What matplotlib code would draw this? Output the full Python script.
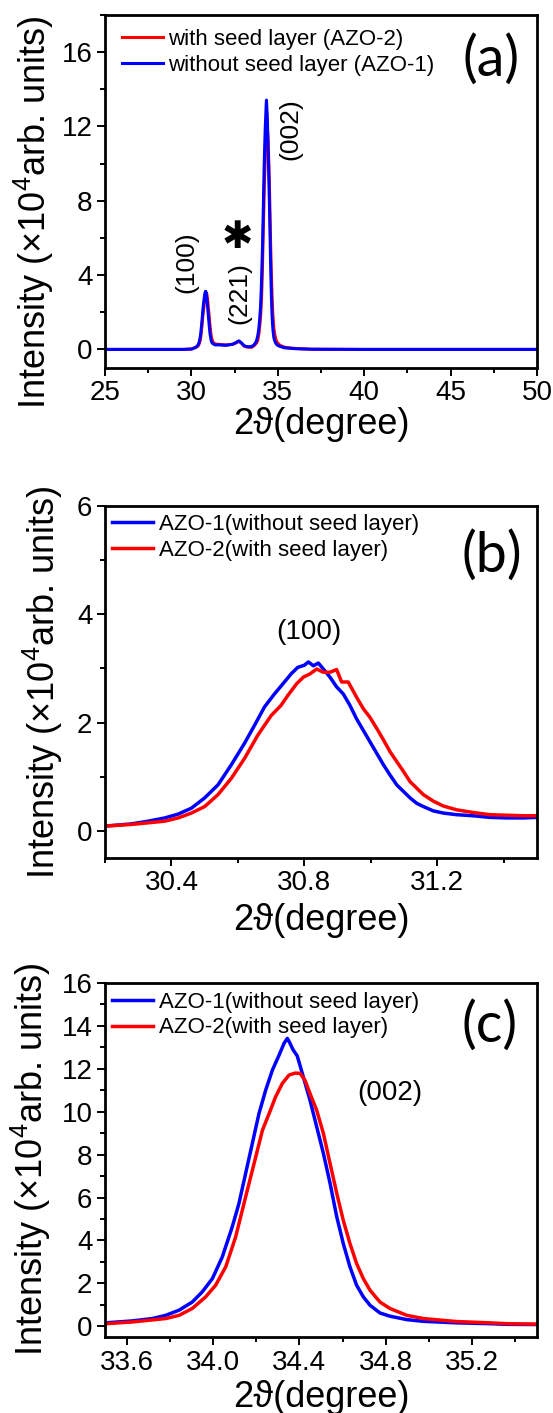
import matplotlib
matplotlib.use('Agg')
import matplotlib.pyplot as plt
from matplotlib.ticker import MultipleLocator, FormatStrFormatter

plt.rcParams['font.family'] = ['Liberation Sans', 'DejaVu Sans']
plt.rcParams['mathtext.fontset'] = 'custom'
plt.rcParams['mathtext.rm'] = 'Liberation Sans'

# AZO-1 (without seed layer)
theta_azo1 = [25.0, 28.0, 29.5, 30.0,
              30.202, 30.28, 30.33, 30.38, 30.42, 30.46, 30.50, 30.54, 30.58, 30.62,
              30.65, 30.68, 30.71, 30.74, 30.76, 30.78, 30.80, 30.812, 30.827, 30.842,
              30.857, 30.877, 30.897, 30.917, 30.937, 30.957, 30.977, 30.997, 31.018,
              31.038, 31.058, 31.078, 31.098, 31.118, 31.138, 31.158, 31.188, 31.218,
              31.258, 31.308, 31.358, 31.41, 31.46, 31.5,
              32.0, 32.4, 32.6, 32.75, 32.9, 33.05, 33.2, 33.35,
              33.503, 33.626, 33.719, 33.781, 33.843, 33.904, 33.95, 33.997, 34.043,
              34.089, 34.12, 34.151, 34.182, 34.213, 34.244, 34.275, 34.306, 34.329,
              34.344, 34.356, 34.37, 34.39, 34.418, 34.449, 34.48, 34.511, 34.542,
              34.573, 34.603, 34.634, 34.665, 34.696, 34.727, 34.773, 34.819, 34.897,
              34.974, 35.128, 35.282, 35.36, 35.5, 36.0, 37.0, 40.0, 50.0]
int_azo1 = [0.0, 0.0, 0.0, 0.02,
            0.09, 0.13, 0.18, 0.24, 0.31, 0.42, 0.61, 0.85, 1.22, 1.62,
            1.95, 2.29, 2.53, 2.75, 2.90, 3.02, 3.06, 3.12, 3.05, 3.10,
            2.99, 2.84, 2.66, 2.53, 2.32, 2.07, 1.86, 1.65, 1.43,
            1.22, 1.03, 0.85, 0.73, 0.61, 0.51, 0.45, 0.37, 0.33,
            0.30, 0.28, 0.25, 0.24, 0.24, 0.25,
            0.22, 0.28, 0.38, 0.46, 0.35, 0.20, 0.15, 0.14,
            0.16, 0.25, 0.36, 0.51, 0.75, 1.13, 1.60, 2.22, 3.23,
            4.63, 5.72, 7.12, 8.52, 9.92, 11.01, 11.94, 12.64, 13.19,
            13.42, 13.2, 12.9, 12.6, 11.63, 10.54, 9.30, 8.06, 6.66,
            5.10, 3.86, 2.77, 1.91, 1.37, 0.98, 0.62, 0.47, 0.31,
            0.23, 0.16, 0.12, 0.09, 0.08, 0.04, 0.01, 0.0, 0.0]

# AZO-2 (with seed layer)
theta_azo2 = [25.0, 28.0, 29.5, 30.0,
              30.202, 30.28, 30.38, 30.42, 30.46, 30.50, 30.54, 30.58, 30.62, 30.66,
              30.70, 30.73, 30.75, 30.777, 30.797, 30.817, 30.837, 30.857, 30.877,
              30.897, 30.912, 30.932, 30.957, 30.977, 30.997, 31.018, 31.038, 31.058,
              31.078, 31.098, 31.118, 31.138, 31.158, 31.188, 31.218, 31.258, 31.308,
              31.358, 31.41, 31.46, 31.5,
              32.0, 32.4, 32.6, 32.75, 32.9, 33.05, 33.2, 33.35,
              33.503, 33.626, 33.781, 33.843, 33.904, 33.966, 34.012, 34.059, 34.105,
              34.151, 34.198, 34.229, 34.26, 34.29, 34.321, 34.352, 34.38, 34.403,
              34.426, 34.449, 34.48, 34.511, 34.542, 34.573, 34.603, 34.634, 34.665,
              34.696, 34.727, 34.773, 34.819, 34.897, 34.974, 35.128, 35.282, 35.36,
              35.5, 36.0, 37.0, 40.0, 50.0]
int_azo2 = [0.0, 0.0, 0.0, 0.02,
            0.09, 0.12, 0.18, 0.24, 0.33, 0.45, 0.67, 0.97, 1.34, 1.77,
            2.13, 2.32, 2.50, 2.72, 2.84, 2.90, 2.99, 2.93, 2.93,
            2.98, 2.75, 2.75, 2.47, 2.26, 2.10, 1.89, 1.68, 1.46,
            1.28, 1.10, 0.91, 0.79, 0.67, 0.55, 0.46, 0.39, 0.34,
            0.30, 0.29, 0.28, 0.28,
            0.24, 0.28, 0.36, 0.44, 0.33, 0.18, 0.13, 0.12,
            0.12, 0.20, 0.36, 0.51, 0.83, 1.37, 1.91, 2.77, 4.17,
            6.03, 7.90, 9.14, 9.92, 10.70, 11.32, 11.71, 11.80, 11.79,
            11.47, 10.85, 10.07, 8.99, 7.59, 6.19, 4.94, 3.86, 2.92,
            2.22, 1.68, 1.13, 0.83, 0.51, 0.36, 0.22, 0.16, 0.12,
            0.10, 0.05, 0.01, 0.0, 0.0]

ylab = 'Intensity (×10$^4$arb. units)'
xlab = '2ϑ(degree)'

fig = plt.figure(figsize=(5.53, 14.13), dpi=100)
H = 1413.0

def box(top, bottom):
    return [105 / 553, 1 - bottom / H, 432 / 553, (bottom - top) / H]

def style(ax, xlim, ylim, xmaj, ymaj, fmt):
    ax.set_xlim(*xlim)
    ax.set_ylim(*ylim)
    ax.xaxis.set_major_locator(MultipleLocator(xmaj))
    ax.xaxis.set_minor_locator(MultipleLocator(xmaj / 2))
    ax.yaxis.set_major_locator(MultipleLocator(ymaj))
    ax.yaxis.set_minor_locator(MultipleLocator(ymaj / 2))
    ax.xaxis.set_major_formatter(FormatStrFormatter(fmt))
    ax.yaxis.set_major_formatter(FormatStrFormatter('%d'))
    ax.tick_params(which='both', direction='out', top=False, right=False,
                   labelsize=20, width=1.4, pad=3)
    ax.tick_params(which='major', length=6)
    ax.tick_params(which='minor', length=3.5)
    for s in ax.spines.values():
        s.set_linewidth(2)
    ax.set_xlabel(xlab, fontsize=26)
    ax.set_ylabel(ylab, fontsize=26)

leg_kw = dict(loc='upper left', frameon=False, fontsize=16, handlelength=1.85,
              handletextpad=0.25, labelspacing=0.2, borderpad=0, borderaxespad=0)

# (a) full pattern
ax = fig.add_axes(box(15, 368))
ax.plot(theta_azo2, int_azo2, color='red', lw=2.2, label='with seed layer (AZO-2)')
ax.plot(theta_azo1, int_azo1, color='blue', lw=2.2, label='without seed layer (AZO-1)')
style(ax, (25, 50), (-1, 18), 5, 4, '%d')
ax.xaxis.set_label_coords(0.5, -0.11)
ax.yaxis.set_label_coords(-0.113, 0.442)
ax.legend(bbox_to_anchor=(0.039, 0.96), **leg_kw)
ax.text(0.893, 0.873, '(a)', transform=ax.transAxes, fontsize=40, family='Lato',
        ha='center', va='center')
ax.text(29.73, 4.7, '(100)', rotation=90, fontsize=19, ha='center', va='center')
ax.text(32.75, 3.05, '(221)', rotation=90, fontsize=19, ha='center', va='center')
ax.text(32.64, 5.98, '✱', fontsize=27, family='DejaVu Sans', ha='center', va='center')
ax.text(35.75, 11.85, '(002)', rotation=90, fontsize=19, ha='center', va='center')

# (b) (100) peak
ax = fig.add_axes(box(506, 858))
ax.plot(theta_azo1, int_azo1, color='blue', lw=2.5, label='AZO-1(without seed layer)')
ax.plot(theta_azo2, int_azo2, color='red', lw=2.5, label='AZO-2(with seed layer)')
style(ax, (30.2, 31.5), (-0.5, 6), 0.4, 2, '%.1f')
ax.xaxis.set_label_coords(0.5, -0.128)
ax.yaxis.set_label_coords(-0.092, 0.5)
ax.legend(bbox_to_anchor=(0.016, 0.977), **leg_kw)
ax.text(0.896, 0.858, '(b)', transform=ax.transAxes, fontsize=40, family='Lato',
        ha='center', va='center')
ax.text(30.815, 3.67, '(100)', fontsize=20, ha='center', va='center')

# (c) (002) peak
ax = fig.add_axes(box(983, 1337))
ax.plot(theta_azo1, int_azo1, color='blue', lw=2.5, label='AZO-1(without seed layer)')
ax.plot(theta_azo2, int_azo2, color='red', lw=2.5, label='AZO-2(with seed layer)')
style(ax, (33.5, 35.5), (-0.5, 16), 0.4, 2, '%.1f')
ax.yaxis.set_minor_locator(MultipleLocator(1))
ax.xaxis.set_label_coords(0.5, -0.121)
ax.yaxis.set_label_coords(-0.12, 0.503)
ax.legend(bbox_to_anchor=(0.016, 0.975), **leg_kw)
ax.text(0.891, 0.879, '(c)', transform=ax.transAxes, fontsize=40, family='Lato',
        ha='center', va='center')
ax.text(34.82, 10.87, '(002)', fontsize=20, ha='center', va='center')

fig.savefig('out.png', dpi=100)
